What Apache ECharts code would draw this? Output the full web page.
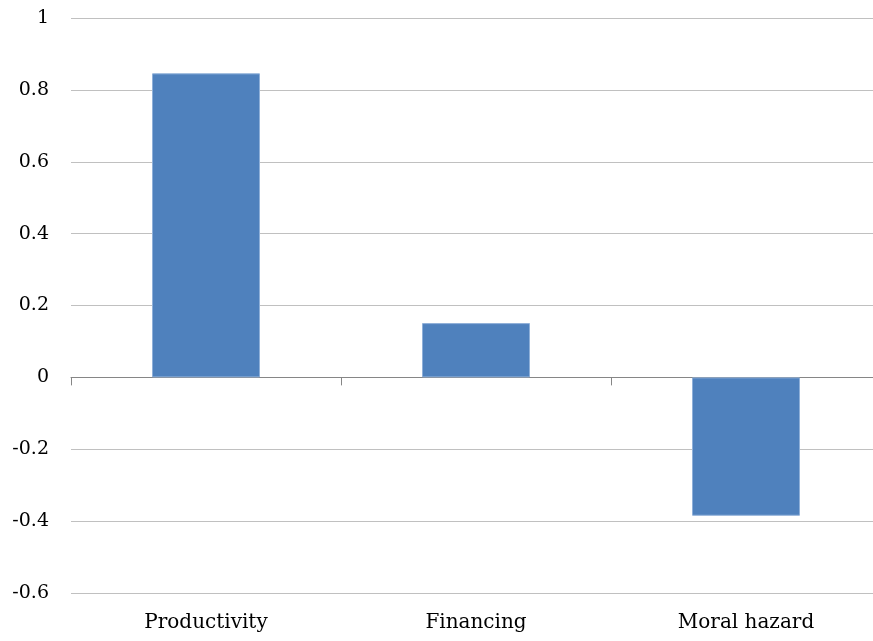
<!DOCTYPE html>
<html><head><meta charset="utf-8">
<script src="https://cdn.jsdelivr.net/npm/echarts@6/dist/echarts.min.js"></script>
<style>html,body{margin:0;padding:0;background:#fff;overflow:hidden}#c{width:881px;height:641px}</style>
</head><body><div id="c"></div>
<script>
const categories = ['Productivity', 'Financing', 'Moral hazard'];
const values = [0.846, 0.151, -0.385];
const yTicks = { min: -0.6, max: 1, interval: 0.2 };

const font = '"DejaVu Serif", serif';
const chart = echarts.init(document.getElementById('c'), null, { renderer: 'canvas' });
chart.setOption({
  animation: false,
  grid: { left: 71, right: 0, top: 18, bottom: 48, containLabel: false },
  xAxis: [
    {
      type: 'category', data: categories, position: 'bottom',
      axisLine: { show: false, onZero: false }, axisTick: { show: false },
      axisLabel: { color: '#000', fontFamily: font, fontSize: 20, margin: 20 }
    },
    {
      type: 'category', data: categories, position: 'bottom',
      axisLine: { show: true, onZero: true, lineStyle: { color: '#868686', width: 1 } },
      axisTick: { show: true, length: 8, lineStyle: { color: '#868686' } },
      axisLabel: { show: false }
    }
  ],
  yAxis: {
    type: 'value', min: yTicks.min, max: yTicks.max, interval: yTicks.interval,
    axisLine: { show: false }, axisTick: { show: false },
    splitLine: { lineStyle: { color: '#c0c0c0', width: 1 } },
    axisLabel: {
      color: '#000', fontFamily: font, fontSize: 19, margin: 22,
      formatter: v => { const r = Math.round(v * 10) / 10; return r === 0 ? '0' : String(r); }
    }
  },
  series: [{
    type: 'bar', xAxisIndex: 0, data: values, barCategoryGap: '60%',
    itemStyle: { color: '#4F81BD', borderColor: '#8fb0d9', borderWidth: 1 }
  }]
});
</script></body></html>
